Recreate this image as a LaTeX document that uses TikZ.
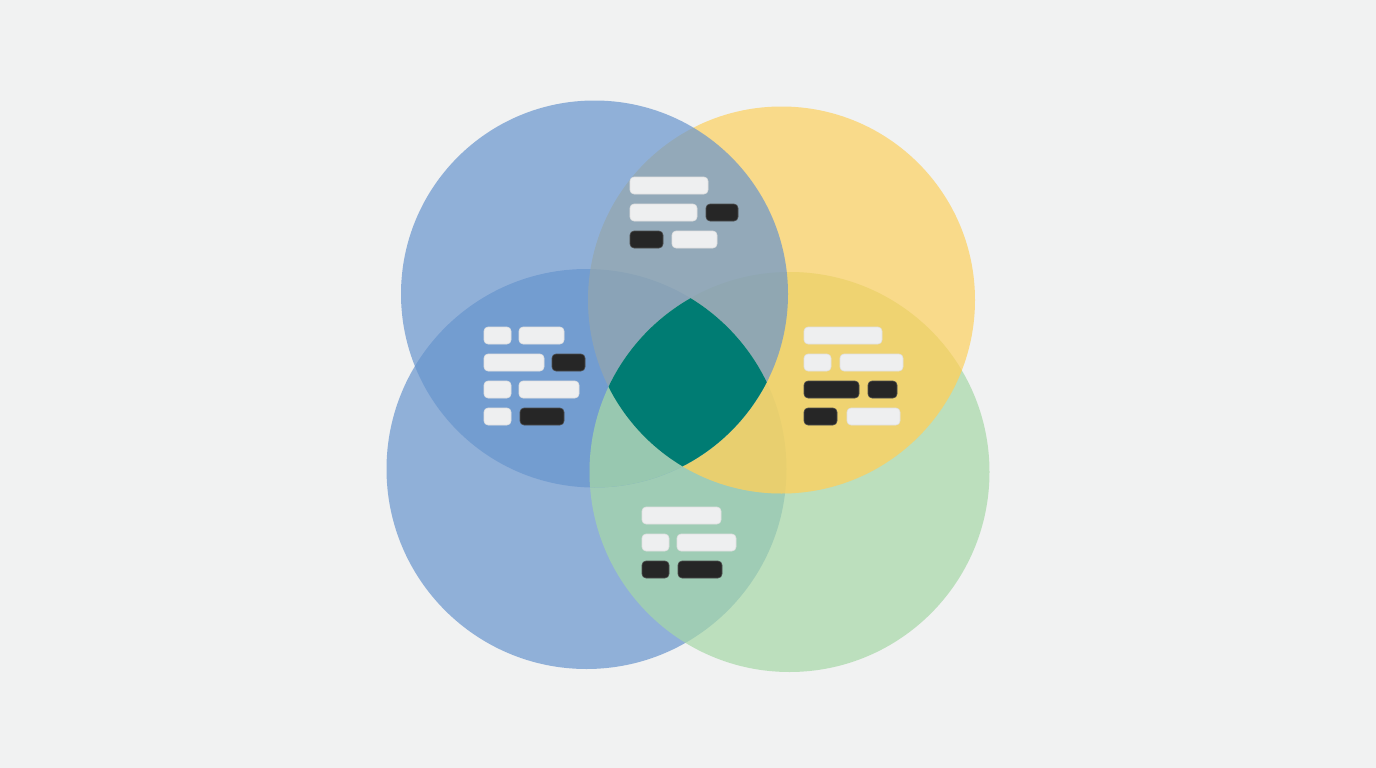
\documentclass[tikz,border=0pt]{standalone}
\definecolor{bg}{RGB}{241,242,242}
\definecolor{cblue}{RGB}{104,149,206}
\definecolor{cyellow}{RGB}{253,209,94}
\definecolor{cgreen}{RGB}{166,216,167}
\definecolor{cteal}{RGB}{0,124,115}
\definecolor{barlight}{RGB}{238,239,240}
\definecolor{bardark}{RGB}{38,38,38}
\begin{document}
\begin{tikzpicture}[x=1pt,y=-1pt,
  venn/.style={fill opacity=0.7},
  lbar/.style={fill=barlight, draw=black!12, line width=0.6pt, rounded corners=4pt},
  dbar/.style={fill=bardark, draw=black!70, line width=0.6pt, rounded corners=4pt}]
\fill[bg] (0,0) rectangle (1376,768);
\useasboundingbox (0,0) rectangle (1376,768);
\coordinate (tl) at (594.5,294);
\coordinate (yc) at (781.5,300);
\coordinate (bl) at (586.5,469);
\coordinate (gc) at (789.5,472);
% circles
\fill[cblue,venn] (bl) circle[radius=200pt];
\fill[cgreen,venn] (gc) circle[radius=200pt];
\fill[cyellow,venn] (yc) circle[radius=193.5pt];
% warmer yellow where yellow covers green
\begin{scope}
  \clip (gc) circle[radius=200pt];
  \fill[cyellow,fill opacity=0.3] (yc) circle[radius=193.5pt];
\end{scope}
\fill[cblue,venn] (tl) circle[radius=193.5pt];
% green over top-left blue where green and both blues meet
\begin{scope}
  \clip (tl) circle[radius=193.5pt];
  \clip (bl) circle[radius=200pt];
  \fill[cgreen,venn] (gc) circle[radius=200pt];
\end{scope}
% centre: all four
\begin{scope}
  \clip (tl) circle[radius=193.5pt];
  \clip (bl) circle[radius=200pt];
  \clip (gc) circle[radius=200pt];
  \fill[cteal] (yc) circle[radius=193.5pt];
\end{scope}
% top group
\fill[lbar] (630,177) rectangle (708,194);
\fill[lbar] (630,204) rectangle (697,221);
\fill[dbar] (706,204) rectangle (738,221);
\fill[dbar] (630,231) rectangle (663,248);
\fill[lbar] (672,231) rectangle (717,248);
% left group
\fill[lbar] (484,327) rectangle (511,344);
\fill[lbar] (519,327) rectangle (564,344);
\fill[lbar] (484,354) rectangle (544,371);
\fill[dbar] (552,354) rectangle (585,371);
\fill[lbar] (484,381) rectangle (511,398);
\fill[lbar] (519,381) rectangle (579,398);
\fill[lbar] (484,408) rectangle (511,425);
\fill[dbar] (520,408) rectangle (564,425);
% right group
\fill[lbar] (804,327) rectangle (882,344);
\fill[lbar] (804,354) rectangle (831,371);
\fill[lbar] (840,354) rectangle (903,371);
\fill[dbar] (804,381) rectangle (859,398);
\fill[dbar] (868,381) rectangle (897,398);
\fill[dbar] (804,408) rectangle (837,425);
\fill[lbar] (847,408) rectangle (900,425);
% bottom group
\fill[lbar] (642,507) rectangle (721,524);
\fill[lbar] (642,534) rectangle (669,551);
\fill[lbar] (677,534) rectangle (736,551);
\fill[dbar] (642,561) rectangle (669,578);
\fill[dbar] (678,561) rectangle (722,578);
\end{tikzpicture}
\end{document}
